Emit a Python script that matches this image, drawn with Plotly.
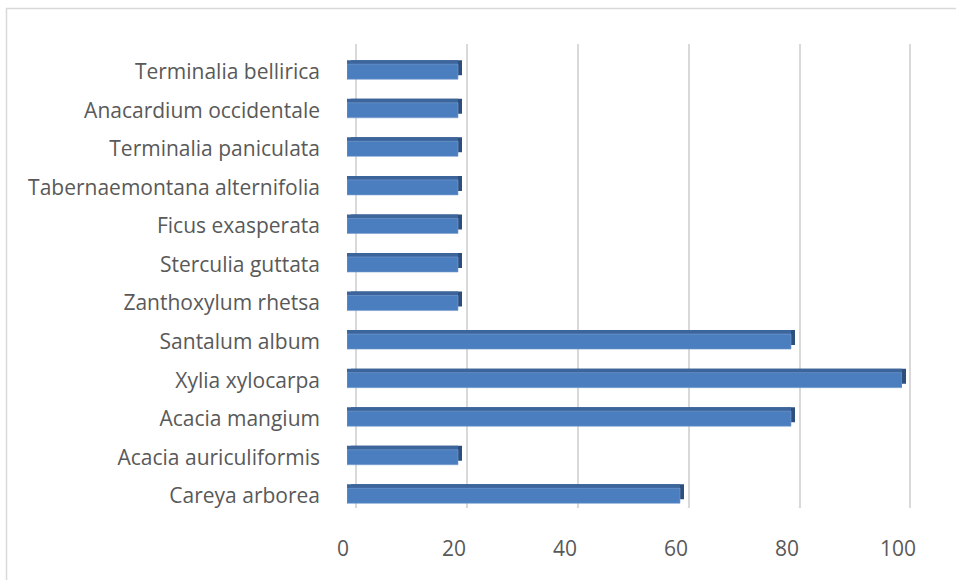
import plotly.graph_objects as go

# ---------------- data ----------------
categories = [
    "Careya arborea",
    "Acacia auriculiformis",
    "Acacia mangium",
    "Xylia xylocarpa",
    "Santalum album",
    "Zanthoxylum rhetsa",
    "Sterculia guttata",
    "Ficus exasperata",
    "Tabernaemontana alternifolia",
    "Terminalia paniculata",
    "Anacardium occidentale",
    "Terminalia bellirica",
]
values = [60, 20, 80, 100, 80, 20, 20, 20, 20, 20, 20, 20]
tick_values = [0, 20, 40, 60, 80, 100]
tick_labels = ["0", "20", "40", "60", "80", "100"]

# ---------------- layout helpers (pixel geometry) ----------------
W, H = 956, 580
FONT = "Open Sans"
TXT = "#595959"
GRID = "#d9d9d9"
FRONT = "#4a7ebf"
TOP = "#3c659c"
SIDE = "#2d4f7e"


def fx(p):
    return p / W


def fy(p):
    return 1 - p / H


def xdom(p0, p100, r0, r1):
    k = (p100 - p0) / 100.0
    return [fx(p0 + r0 * k), fx(p0 + r1 * k)]


n = len(categories)
c0, step = 495.8, 38.55  # centre of first category, spacing (px)
y_bot = c0 + 0.5 * step
y_top = c0 - (n - 0.5) * step
bar_w = 0.39
dz = 4  # depth offset of bar faces (px)

fig = go.Figure()

# side / depth face
fig.add_trace(go.Bar(x=values, y=categories, orientation="h", width=bar_w,
                     marker=dict(color=SIDE, line=dict(width=0)),
                     xaxis="x2", yaxis="y2", hoverinfo="skip", showlegend=False))
# top face
fig.add_trace(go.Bar(x=values, y=categories, orientation="h", width=bar_w,
                     marker=dict(color=TOP, line=dict(width=0)),
                     xaxis="x3", yaxis="y3", hoverinfo="skip", showlegend=False))
# front face
fig.add_trace(go.Bar(x=values, y=categories, orientation="h", width=bar_w,
                     marker=dict(color=FRONT, line=dict(width=0.6, color="#7a9fd2")),
                     xaxis="x4", yaxis="y4", showlegend=False))

hidden_y = dict(type="category", categoryorder="array", categoryarray=categories,
                range=[-0.5, n - 0.5], showgrid=False, zeroline=False,
                showticklabels=False, showline=False, ticks="", fixedrange=True,
                automargin=False)
hidden_x = dict(range=[0, 100], showgrid=False, zeroline=False,
                showticklabels=False, showline=False, ticks="", fixedrange=True,
                automargin=False)

shapes = []
# floor part of the back-wall gridlines (slanted toward the viewer)
for v in tick_values:
    shapes.append(dict(type="line", xref="x", yref="y", layer="below",
                       xsizemode="pixel", xanchor=v, x0=0, x1=-14,
                       ysizemode="pixel", yanchor=0, y0=0, y1=-10.5,
                       line=dict(color=GRID, width=2)))
# outer chart border
shapes.append(dict(type="rect", xref="paper", yref="paper",
                   x0=fx(6.5), y0=fy(8.5), x1=1.02, y1=-0.02,
                   line=dict(color=GRID, width=1.5), layer="below"))

fig.update_layout(
    width=W, height=H,
    autosize=False,
    margin=dict(l=0, r=0, t=0, b=0, pad=0, autoexpand=False),
    paper_bgcolor="white",
    plot_bgcolor="rgba(0,0,0,0)",
    font=dict(family=FONT, color=TXT, size=21),
    # back wall grid
    xaxis=dict(domain=xdom(356, 910.5, -1, 101), range=[-1, 101],
               tickvals=tick_values, showgrid=True, gridcolor=GRID, gridwidth=2,
               zeroline=False, showticklabels=False, showline=False, ticks="",
               anchor="y", fixedrange=True, automargin=False),
    yaxis=dict(domain=[fy(508), fy(44)], range=[0, 1], showgrid=False,
               zeroline=False, showticklabels=False, showline=False, ticks="",
               anchor="x", fixedrange=True, automargin=False),
    xaxis2=dict(hidden_x, domain=xdom(347 + dz, 902 + dz, 0, 100), anchor="y2"),
    yaxis2=dict(hidden_y, domain=[fy(y_bot - dz), fy(y_top - dz)], anchor="x2"),
    xaxis3=dict(hidden_x, domain=xdom(347, 902, 0, 100), anchor="y3"),
    yaxis3=dict(hidden_y, domain=[fy(y_bot - dz), fy(y_top - dz)], anchor="x3"),
    xaxis4=dict(hidden_x, domain=xdom(347, 902, 0, 100), anchor="y4",
                showticklabels=True, tickvals=tick_values, ticktext=tick_labels,
                tickfont=dict(family=FONT, size=21, color=TXT),
                ticklabelshift=-4, ticklabelstandoff=19),
    yaxis4=dict(hidden_y, domain=[fy(y_bot), fy(y_top)], anchor="x4",
                showticklabels=True, tickfont=dict(family=FONT, size=21, color=TXT),
                ticklabelstandoff=26),
    shapes=shapes,
)

fig.write_html("out.html")
